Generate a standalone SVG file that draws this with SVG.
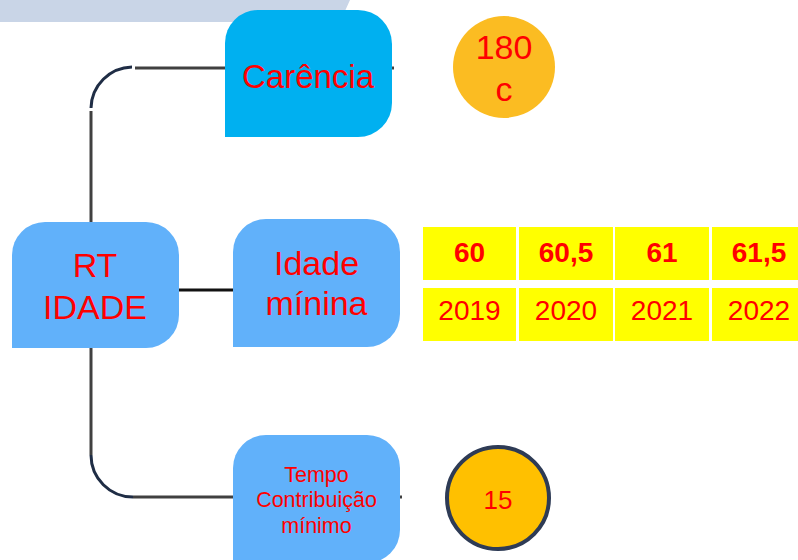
<svg xmlns="http://www.w3.org/2000/svg" width="798" height="560" viewBox="0 0 798 560">
<style>
.t{font-family:"Liberation Sans",Arial,sans-serif;fill:#FF0000;text-anchor:middle}
.ln{stroke:#404040;stroke-width:3;fill:none}
.arc{stroke:#1F2D45;stroke-width:3;fill:none}
.cell{fill:#FFFF00}
.box{fill:#61B1FA}
</style>
<rect width="798" height="560" fill="#FFFFFF"/>
<polygon points="0,0 350,0 340,22 0,22" fill="#C9D5E7"/>
<g id="connectors">
<line class="ln" x1="91" y1="222" x2="91" y2="111"/>
<path class="arc" d="M91,108 A42 42 0 0 1 132,67"/>
<line class="ln" x1="135" y1="68" x2="226" y2="68"/>
<line class="ln" x1="391" y1="68" x2="394" y2="68"/>
<line x1="179" y1="290" x2="233" y2="290" stroke="#111111" stroke-width="3"/>
<line class="ln" x1="91" y1="348" x2="91" y2="455"/>
<path class="arc" d="M91,455 A42 42 0 0 0 133,497"/>
<line class="ln" x1="133" y1="497" x2="234" y2="497"/>
<line class="ln" x1="399" y1="497" x2="402" y2="497"/>
</g>
<g id="carencia">
<path d="M225,43 A33 33 0 0 1 258,10 H358 A34 34 0 0 1 392,44 V103 A34 34 0 0 1 358,137 H225 Z" fill="#00B0F0"/>
<text class="t" x="308" y="88" font-size="33">Carência</text>
</g>
<g id="rt-idade">
<path d="M12,255 A33 33 0 0 1 45,222 H146 A33 33 0 0 1 179,255 V315 A33 33 0 0 1 146,348 H12 Z" class="box"/>
<text class="t" x="95" y="277" font-size="34">RT</text>
<text class="t" x="95" y="319" font-size="34">IDADE</text>
</g>
<g id="idade-minina">
<path d="M233,252 A33 33 0 0 1 266,219 H367 A33 33 0 0 1 400,252 V314 A33 33 0 0 1 367,347 H233 Z" class="box"/>
<text class="t" x="316.5" y="275" font-size="34">Idade</text>
<text class="t" x="316.5" y="315" font-size="34">mínina</text>
</g>
<g id="tempo">
<path d="M233,468 A33 33 0 0 1 266,435 H367 A33 33 0 0 1 400,468 V530 A33 33 0 0 1 367,563 H233 Z" class="box"/>
<text class="t" x="316.5" y="482" font-size="21.5">Tempo</text>
<text class="t" x="316.5" y="507" font-size="21.5">Contribuição</text>
<text class="t" x="316.5" y="533" font-size="21.5">mínimo</text>
</g>
<g id="circle-180">
<circle cx="504" cy="67" r="51" fill="#FBBC22"/>
<text class="t" x="504" y="59" font-size="34">180</text>
<text class="t" x="504" y="101" font-size="34">c</text>
</g>
<g id="circle-15">
<circle cx="498" cy="498" r="51" fill="#FFC000" stroke="#2E3B55" stroke-width="4"/>
<text class="t" x="498" y="509" font-size="26">15</text>
</g>
<g id="table">
<rect class="cell" x="423" y="227" width="93" height="53"/>
<rect class="cell" x="519" y="227" width="94" height="53"/>
<rect class="cell" x="615" y="227" width="94" height="53"/>
<rect class="cell" x="712" y="227" width="94" height="53"/>
<rect class="cell" x="423" y="288" width="93" height="53"/>
<rect class="cell" x="519" y="288" width="94" height="53"/>
<rect class="cell" x="615" y="288" width="94" height="53"/>
<rect class="cell" x="712" y="288" width="94" height="53"/>
<g font-weight="bold" font-size="28">
<text class="t" x="469.5" y="262">60</text>
<text class="t" x="566" y="262">60,5</text>
<text class="t" x="662" y="262">61</text>
<text class="t" x="759" y="262">61,5</text>
</g>
<g font-size="28">
<text class="t" x="469.5" y="320">2019</text>
<text class="t" x="566" y="320">2020</text>
<text class="t" x="662" y="320">2021</text>
<text class="t" x="759" y="320">2022</text>
</g>
</g>
</svg>
